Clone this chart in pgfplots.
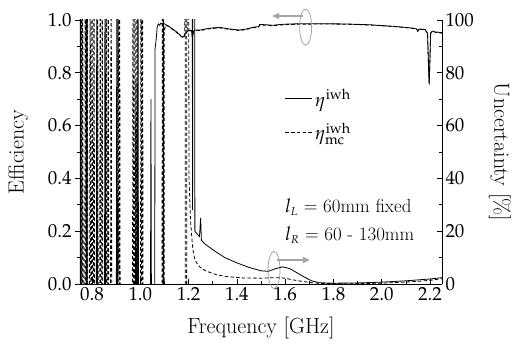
\documentclass[border=0pt]{standalone}
\usepackage{mathpazo}
\usepackage{pgfplots}
\pgfplotsset{compat=1.18}
\usetikzlibrary{arrows.meta}
\definecolor{annot}{RGB}{165,165,165}

% efficiency, solid: eta^iwh
\pgfplotstableread{
f e
0.7450 -0.5
0.7490 -0.5
0.7520 1.5
0.7550 -0.5
0.7750 -0.5
0.7780 1.5
0.7810 -0.5
0.8170 -0.5
0.8200 1.5
0.8230 -0.5
0.8510 -0.5
0.8540 1.5
0.8570 -0.5
0.9000 -0.5
0.9030 1.5
0.9060 -0.5
0.9790 -0.5
0.9820 0.77
0.9850 -0.5
0.9870 -0.5
0.9900 1.5
0.9930 -0.5
1.0410 -0.5
1.0440 0.70
1.0470 -0.5
1.0590 -0.5
1.0610 0.89
1.0660 0.93
1.0700 0.975
1.0750 0.985
1.0800 0.980
1.0850 0.988
1.0900 0.984
1.1000 0.986
1.1100 0.978
1.1200 0.975
1.1300 0.968
1.1400 0.962
1.1500 0.955
1.1600 0.947
1.1700 0.938
1.1770 0.935
1.1850 0.945
1.1950 0.957
1.2050 0.962
1.2120 0.960
1.2160 0.930
1.2190 0.955
1.2250 0.962
1.2500 0.962
1.2800 0.968
1.3000 0.970
1.3300 0.972
1.3700 0.966
1.4100 0.962
1.4400 0.966
1.4700 0.973
1.4900 0.975
1.4950 0.983
1.5200 0.982
1.5500 0.980
1.5800 0.983
1.6200 0.985
1.6800 0.986
1.7500 0.986
1.8500 0.985
1.9500 0.982
2.0500 0.976
2.1000 0.972
2.1300 0.969
2.1450 0.966
2.1500 0.958
2.1550 0.966
2.1800 0.964
2.1900 0.950
2.1950 0.800
2.1970 0.755
2.2000 0.850
2.2030 0.952
2.2100 0.958
2.2200 0.955
2.2500 0.952
}\effsolid

% efficiency, dashed: eta^iwh_mc
\pgfplotstableread{
f e
0.7450 -0.5
0.7520 -0.5
0.7550 1.5
0.7580 -0.5
0.7610 1.5
0.7640 -0.5
0.7690 -0.5
0.7720 1.5
0.7750 -0.5
0.7770 -0.5
0.7800 1.5
0.7830 -0.5
0.7890 -0.5
0.7920 1.5
0.7950 -0.5
0.7970 -0.5
0.8000 1.5
0.8030 -0.5
0.8050 -0.5
0.8080 1.5
0.8110 -0.5
0.8200 -0.5
0.8230 1.5
0.8260 -0.5
0.8310 -0.5
0.8340 1.5
0.8370 -0.5
0.8390 -0.5
0.8420 1.5
0.8450 -0.5
0.8560 -0.5
0.8590 1.5
0.8620 -0.5
0.8640 -0.5
0.8670 1.5
0.8700 -0.5
0.8760 -0.5
0.8790 1.5
0.8820 -0.5
0.9050 -0.5
0.9080 1.5
0.9110 -0.5
0.9140 1.5
0.9170 -0.5
0.9670 -0.5
0.9700 1.5
0.9730 -0.5
0.9750 -0.5
0.9780 1.5
0.9810 -0.5
0.9830 -0.5
0.9860 1.5
0.9890 -0.5
1.0000 -0.5
1.0030 1.5
1.0060 -0.5
1.0090 1.5
1.0120 -0.5
1.0890 -0.5
1.0920 1.5
1.0950 -0.5
1.0965 1.5
1.0980 -0.5
1.0995 0.955
1.1030 0.975
1.1080 0.982
1.1200 0.974
1.1300 0.966
1.1400 0.960
1.1500 0.953
1.1600 0.945
1.1700 0.937
1.1780 0.933
1.1840 0.940
1.1855 1.5
1.1868 -0.5
1.1915 -0.5
1.1930 1.5
1.1945 0.958
1.2050 0.960
1.2120 0.958
1.2165 0.935
1.2200 0.955
1.2300 0.960
1.2500 0.960
1.2800 0.966
1.3000 0.968
1.3300 0.970
1.3700 0.964
1.4100 0.960
1.4400 0.964
1.4700 0.971
1.4900 0.973
1.4950 0.981
1.5200 0.980
1.5500 0.978
1.5800 0.981
1.6200 0.983
1.6800 0.984
1.7500 0.985
1.8500 0.984
1.9500 0.981
2.0500 0.975
2.1000 0.971
2.1300 0.968
2.1450 0.965
2.1500 0.957
2.1550 0.965
2.1800 0.963
2.1900 0.949
2.1950 0.805
2.1970 0.760
2.2000 0.855
2.2030 0.950
2.2100 0.956
2.2200 0.954
2.2500 0.950
}\effdashed

% uncertainty in percent, solid
\pgfplotstableread{
f u
1.2120 300
1.2165 28
1.2190 300
1.2235 300
1.2260 20
1.2350 19
1.2450 18
1.2500 25
1.2530 16.5
1.2700 15.0
1.3000 13.0
1.3500 10.0
1.4000 8.0
1.4500 6.3
1.5000 5.0
1.5300 4.8
1.5600 5.8
1.5900 6.5
1.6200 5.8
1.6500 4.2
1.6800 2.6
1.7100 1.2
1.7400 0.5
1.8000 0.3
1.9000 0.4
2.0000 0.7
2.1000 1.2
2.2000 1.9
2.2500 2.4
}\uncsolid

% uncertainty in percent, dashed
\pgfplotstableread{
f u
1.1950 300
1.2020 40
1.2080 24
1.2140 16.7
1.2180 12.9
1.2250 9.5
1.2350 7.8
1.2470 6.4
1.2700 5.0
1.3000 4.0
1.3200 3.4
1.3600 2.8
1.4250 2.3
1.5000 2.2
1.5600 2.4
1.6000 2.2
1.6300 1.6
1.6700 1.0
1.7100 0.5
1.7500 0.2
1.8500 0.1
1.9500 0.2
2.0500 0.5
2.1500 1.0
2.2000 1.4
2.2500 2.0
}\uncdashed

\begin{document}
\begin{tikzpicture}[font=\fontsize{19}{23}\selectfont]
\pgfplotsset{
  common/.style={
    scale only axis, width=362bp, height=264bp,
    xmin=0.75, xmax=2.25,
    major tick length=5bp, minor tick length=3bp,
    every tick/.style={black, line width=0.6bp},
    axis line style={black, line width=0.7bp},
    tick label style={font=\fontsize{19}{23}\selectfont},
  },
  solidline/.style={black, line width=0.8bp},
  dashline/.style={black, line width=0.8bp, dash pattern=on 3.5bp off 2.2bp},
}
\begin{axis}[
  common,
  ymin=0, ymax=1,
  axis x line*=bottom, axis y line*=left,
  xtick={0.8,1.0,1.2,1.4,1.6,1.8,2.0,2.2},
  ytick={0,0.2,0.4,0.6,0.8,1.0},
  minor x tick num=1, minor y tick num=1,
  xtick align=inside, ytick align=outside,
  xticklabel style={/pgf/number format/.cd,fixed,fixed zerofill,precision=1},
  yticklabel style={/pgf/number format/.cd,fixed,fixed zerofill,precision=1},
  xlabel={Frequency [GHz]}, ylabel={Efficiency},
  xlabel style={at={(axis description cs:0.5,-0.167)}, anchor=center,
    font=\fontsize{22}{26}\selectfont},
  ylabel style={at={(axis description cs:-0.171,0.5)}, anchor=center,
    font=\fontsize{22}{26}\selectfont},
  clip mode=individual,
  legend style={at={(axis description cs:0.566,0.748)}, anchor=north west,
    draw=none, fill=none, row sep=11bp, inner sep=0pt,
    font=\fontsize{19}{23}\selectfont},
  legend cell align=left,
  legend image code/.code={\draw[#1] (0bp,0bp) -- (27bp,0bp);},
]
\addplot[solidline] table[x=f, y=e] {\effsolid};
\addlegendentry{$\eta^{\mathrm{iwh}}$}
\addplot[dashline] table[x=f, y=e] {\effdashed};
\addlegendentry{$\eta^{\mathrm{iwh}}_{\mathrm{mc}}$}

% markers tying each group of curves to its axis
\draw[annot, line width=0.8bp] (axis cs:1.685,0.973) ellipse [x radius=6bp, y radius=18bp];
\draw[annot, line width=1.6bp, -{Triangle[length=7bp,width=6bp]}]
  (axis cs:1.675,1.015) -- (axis cs:1.546,1.015);
\draw[annot, line width=0.8bp] (axis cs:1.554,0.053) ellipse [x radius=6bp, y radius=18.5bp];
\draw[annot, line width=1.6bp, -{Triangle[length=7bp,width=6bp]}]
  (axis cs:1.566,0.091) -- (axis cs:1.703,0.091);

\node[anchor=west, inner sep=0pt] at (axis description cs:0.566,0.292) {$l_{\scriptscriptstyle L}$ = 60mm fixed};
\node[anchor=west, inner sep=0pt] at (axis description cs:0.566,0.186) {$l_{\scriptscriptstyle R}$ = 60 - 130mm};
\end{axis}

\begin{axis}[
  common,
  ymin=0, ymax=100,
  axis y line*=right, axis x line=none,
  ytick={0,20,40,60,80,100},
  minor y tick num=1,
  ytick align=inside,
  ylabel={Uncertainty [\%]},
  ylabel style={at={(axis description cs:1.16,0.5)}, anchor=center, rotate=180,
    font=\fontsize{22}{26}\selectfont},
]
\addplot[solidline] table[x=f, y=u] {\uncsolid};
\addplot[dashline] table[x=f, y=u] {\uncdashed};
\end{axis}

\pgfresetboundingbox
\path[use as bounding box] (-80bp,-62bp) rectangle (437bp,284bp);
\end{tikzpicture}
\end{document}
